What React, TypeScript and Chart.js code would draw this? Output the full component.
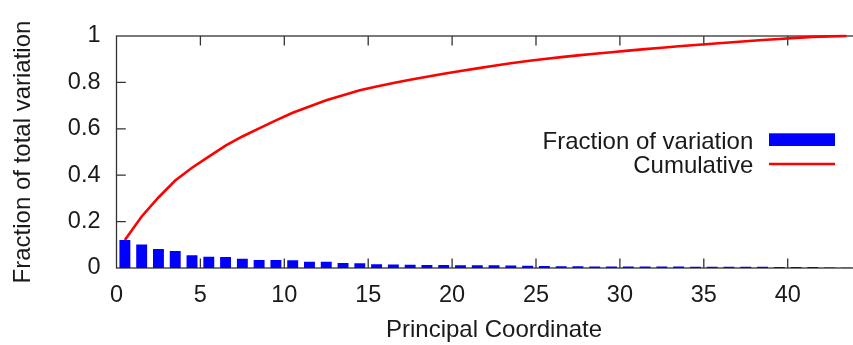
import React, { useEffect, useRef } from 'react';
import { Chart, registerables } from 'chart.js';

Chart.register(...registerables);

// ---- data ----
const coordinates = [
  0.5, 1.5, 2.5, 3.5, 4.5, 5.5, 6.5, 7.5, 8.5, 9.5,
  10.5, 11.5, 12.5, 13.5, 14.5, 15.5, 16.5, 17.5, 18.5, 19.5,
  20.5, 21.5, 22.5, 23.5, 24.5, 25.5, 26.5, 27.5, 28.5, 29.5,
  30.5, 31.5, 32.5, 33.5, 34.5, 35.5, 36.5, 37.5, 38.5, 39.5,
  40.5, 41.5, 42.5, 43.5,
];

const fractionOfVariation = [
  0.121, 0.101, 0.082, 0.073, 0.055, 0.048, 0.047, 0.040, 0.035, 0.034,
  0.033, 0.027, 0.027, 0.022, 0.021, 0.016, 0.015, 0.014, 0.013, 0.013,
  0.012, 0.0115, 0.0114, 0.0105, 0.0098, 0.0088, 0.008, 0.0075, 0.007, 0.0068,
  0.0066, 0.0064, 0.0062, 0.006, 0.0058, 0.0056, 0.0054, 0.0052, 0.005, 0.0048,
  0.0046, 0.0044, 0.0022, 0.0015,
];

const cumulative = [
  0.121, 0.222, 0.304, 0.377, 0.432, 0.480, 0.527, 0.567, 0.602, 0.636,
  0.669, 0.696, 0.723, 0.745, 0.766, 0.782, 0.797, 0.811, 0.824, 0.837,
  0.849, 0.8605, 0.8719, 0.8824, 0.8922, 0.901, 0.909, 0.9165, 0.9235, 0.9303,
  0.9369, 0.9433, 0.9495, 0.9555, 0.9613, 0.9669, 0.9723, 0.9775, 0.9825, 0.9873,
  0.9919, 0.9963, 0.9985, 1.0,
];

const xAxisTitle = 'Principal Coordinate';
const yAxisTitle = 'Fraction of total variation';
const legendLabels = ['Fraction of variation', 'Cumulative'];

// ---- layout / style ----
const CANVAS_W = 890;
const CANVAS_H = 345;
const PLOT_RIGHT = 871.6;
const FONT_FAMILY = "'Liberation Sans', Arial, Helvetica, sans-serif";
const TEXT_COLOR = '#1a1a1a';
const FRAME_COLOR = '#333333';
const BLUE = '#0000ff';
const RED = '#ff0000';

const framePlugin = {
  id: 'frame',
  beforeDatasetsDraw(chart: any) {
    const { ctx, chartArea: a, scales } = chart;
    ctx.save();
    ctx.strokeStyle = FRAME_COLOR;
    ctx.lineWidth = 1.3;
    ctx.strokeRect(a.left, a.top, a.right - a.left, a.bottom - a.top);
    ctx.beginPath();
    scales.x.ticks.forEach((t: any) => {
      const px = scales.x.getPixelForValue(t.value);
      if (px <= a.left + 0.5 || px >= a.right - 0.5) return;
      ctx.moveTo(px, a.bottom);
      ctx.lineTo(px, a.bottom - 9.5);
      ctx.moveTo(px, a.top);
      ctx.lineTo(px, a.top + 9.5);
    });
    scales.y.ticks.forEach((t: any) => {
      const py = scales.y.getPixelForValue(t.value);
      if (py <= a.top + 0.5 || py >= a.bottom - 0.5) return;
      ctx.moveTo(a.left, py);
      ctx.lineTo(a.left + 9.3, py);
      ctx.moveTo(a.right, py);
      ctx.lineTo(a.right - 9.3, py);
    });
    ctx.stroke();
    ctx.restore();
  },
};

const legendPlugin = {
  id: 'gnuLegend',
  afterDraw(chart: any) {
    const { ctx } = chart;
    ctx.save();
    ctx.font = `24px ${FONT_FAMILY}`;
    ctx.fillStyle = TEXT_COLOR;
    ctx.textAlign = 'right';
    ctx.textBaseline = 'alphabetic';
    ctx.fillText(legendLabels[0], 753.3, 149.3);
    ctx.fillText(legendLabels[1], 753.3, 173.3);
    ctx.fillStyle = BLUE;
    ctx.fillRect(769, 133.3, 66, 12.7);
    ctx.strokeStyle = RED;
    ctx.lineWidth = 2.5;
    ctx.beginPath();
    ctx.moveTo(769, 164);
    ctx.lineTo(835, 164);
    ctx.stroke();
    ctx.restore();
  },
};

export default function App() {
  const canvasRef = useRef<HTMLCanvasElement | null>(null);

  useEffect(() => {
    const canvas = canvasRef.current;
    if (!canvas) return;
    const tickFont = { family: FONT_FAMILY, size: 23.5 };
    const titleFont = { family: FONT_FAMILY, size: 24 };
    const chart = new Chart(canvas, {
      type: 'bar',
      data: {
        datasets: [
          {
            type: 'line',
            label: legendLabels[1],
            data: coordinates.map((x, i) => ({ x, y: cumulative[i] })),
            borderColor: RED,
            backgroundColor: RED,
            borderWidth: 2.6,
            pointRadius: 0,
            tension: 0,
            fill: false,
            order: 0,
            clip: false,
          } as any,
          {
            type: 'bar',
            label: legendLabels[0],
            data: coordinates.map((x, i) => ({ x, y: fractionOfVariation[i] })),
            backgroundColor: BLUE,
            borderWidth: 0,
            barPercentage: 0.65,
            categoryPercentage: 1,
            order: 1,
          } as any,
        ],
      },
      options: {
        responsive: false,
        animation: false,
        devicePixelRatio: 1,
        layout: { padding: { top: 36, right: CANVAS_W - PLOT_RIGHT, bottom: 0, left: 0 } },
        plugins: { legend: { display: false }, tooltip: { enabled: false } },
        scales: {
          x: {
            type: 'linear',
            min: 0,
            max: 45,
            offset: false,
            grid: { display: false, drawTicks: false },
            border: { display: false },
            ticks: {
              stepSize: 5,
              autoSkip: false,
              maxRotation: 0,
              padding: 13.5,
              font: tickFont,
              color: TEXT_COLOR,
            },
            title: {
              display: true,
              text: xAxisTitle,
              font: titleFont,
              color: TEXT_COLOR,
              padding: { top: 0, bottom: 0 },
            },
            afterBuildTicks: (s: any) => {
              s.ticks = s.ticks.filter((t: any) => t.value <= 40);
            },
            afterFit: (s: any) => {
              s.height = 77;
            },
          },
          y: {
            type: 'linear',
            min: 0,
            max: 1,
            grid: { display: false, drawTicks: false },
            border: { display: false },
            ticks: {
              stepSize: 0.2,
              padding: 16,
              font: tickFont,
              color: TEXT_COLOR,
              callback: (v: any) => String(Number(Number(v).toFixed(2))),
            },
            title: {
              display: true,
              text: yAxisTitle,
              font: titleFont,
              color: TEXT_COLOR,
              padding: { top: 9, bottom: 0 },
            },
            afterFit: (s: any) => {
              s.width = 116.5;
            },
          },
        },
      } as any,
      plugins: [framePlugin, legendPlugin],
    });
    return () => chart.destroy();
  }, []);

  return (
    <div
      style={{
        position: 'absolute',
        left: 0,
        top: 0,
        width: 853,
        height: 345,
        overflow: 'hidden',
        background: '#ffffff',
      }}
    >
      <canvas
        ref={canvasRef}
        width={CANVAS_W}
        height={CANVAS_H}
        style={{ display: 'block', width: `${CANVAS_W}px`, height: `${CANVAS_H}px` }}
      />
    </div>
  );
}
